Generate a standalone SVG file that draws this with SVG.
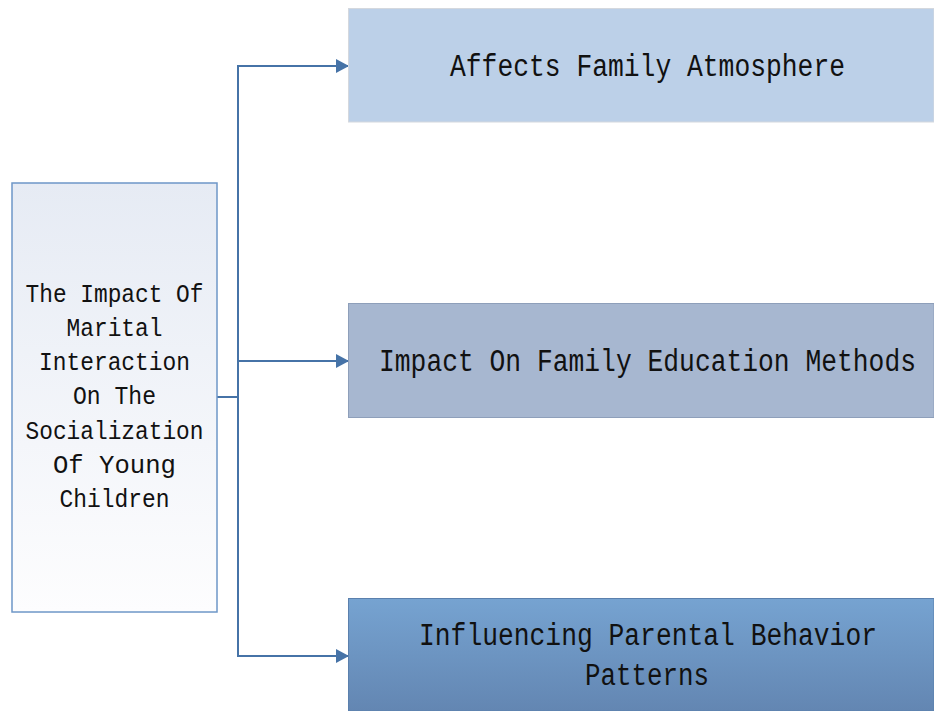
<svg xmlns="http://www.w3.org/2000/svg" width="934" height="711" viewBox="0 0 934 711">
<defs>
<linearGradient id="gLeft" x1="0" y1="0" x2="0" y2="1">
<stop offset="0" stop-color="#e6ebf4"/>
<stop offset="1" stop-color="#fdfdfe"/>
</linearGradient>
<linearGradient id="g3" x1="0" y1="0" x2="0" y2="1">
<stop offset="0" stop-color="#76a3d1"/>
<stop offset="1" stop-color="#6386b2"/>
</linearGradient>
<marker id="arr" viewBox="0 0 13 14" refX="13" refY="7" markerWidth="13" markerHeight="14" markerUnits="userSpaceOnUse" orient="auto">
<path d="M0,0 L13,7 L0,14 Z" fill="#4673a7"/>
</marker>
</defs>
<style>
.t{font-family:"Liberation Mono","DejaVu Sans Mono",monospace;fill:#111;text-anchor:middle}
.big{font-size:31px}
.small{font-size:26.5px}
.conn{fill:none;stroke:#4673a7;stroke-width:2}
</style>
<rect width="934" height="711" fill="#ffffff"/>
<g id="connectors">
<polyline class="conn" points="217,397 238,397"/>
<polyline class="conn" points="238,397 238,66 349,66" marker-end="url(#arr)"/>
<polyline class="conn" points="238,397 238,361 349,361" marker-end="url(#arr)"/>
<polyline class="conn" points="238,397 238,656 349,656" marker-end="url(#arr)"/>
</g>
<g id="root">
<rect x="12" y="183" width="205" height="429" fill="url(#gLeft)" stroke="#6e97c7" stroke-width="1.5"/>
<text class="t small" x="114.5" y="302" textLength="178" lengthAdjust="spacingAndGlyphs">The Impact Of</text>
<text class="t small" x="114.5" y="336" textLength="96" lengthAdjust="spacingAndGlyphs">Marital</text>
<text class="t small" x="114.5" y="370" textLength="151" lengthAdjust="spacingAndGlyphs">Interaction</text>
<text class="t small" x="114.5" y="404" textLength="83" lengthAdjust="spacingAndGlyphs">On The</text>
<text class="t small" x="114.5" y="439" textLength="178" lengthAdjust="spacingAndGlyphs">Socialization</text>
<text class="t small" x="114.5" y="473" textLength="123" lengthAdjust="spacingAndGlyphs">Of Young</text>
<text class="t small" x="114.5" y="507" textLength="110" lengthAdjust="spacingAndGlyphs">Children</text>
</g>
<g id="node1">
<rect x="348.5" y="8.5" width="585.5" height="113.5" fill="#bcd0e8" stroke="#d4d8de" stroke-width="1"/>
<text class="t big" x="647.5" y="76" textLength="395" lengthAdjust="spacingAndGlyphs">Affects Family Atmosphere</text>
</g>
<g id="node2">
<rect x="348.5" y="303.5" width="585.5" height="114" fill="#a7b7d0" stroke="#8e9fba" stroke-width="1"/>
<text class="t big" x="647.5" y="371" textLength="537" lengthAdjust="spacingAndGlyphs">Impact On Family Education Methods</text>
</g>
<g id="node3">
<rect x="348.5" y="598.5" width="585.5" height="112.5" fill="url(#g3)" stroke="#5b80ad" stroke-width="1"/>
<text class="t big" x="648" y="645" textLength="458" lengthAdjust="spacingAndGlyphs">Influencing Parental Behavior</text>
<text class="t big" x="647" y="685" textLength="124" lengthAdjust="spacingAndGlyphs">Patterns</text>
</g>
</svg>
